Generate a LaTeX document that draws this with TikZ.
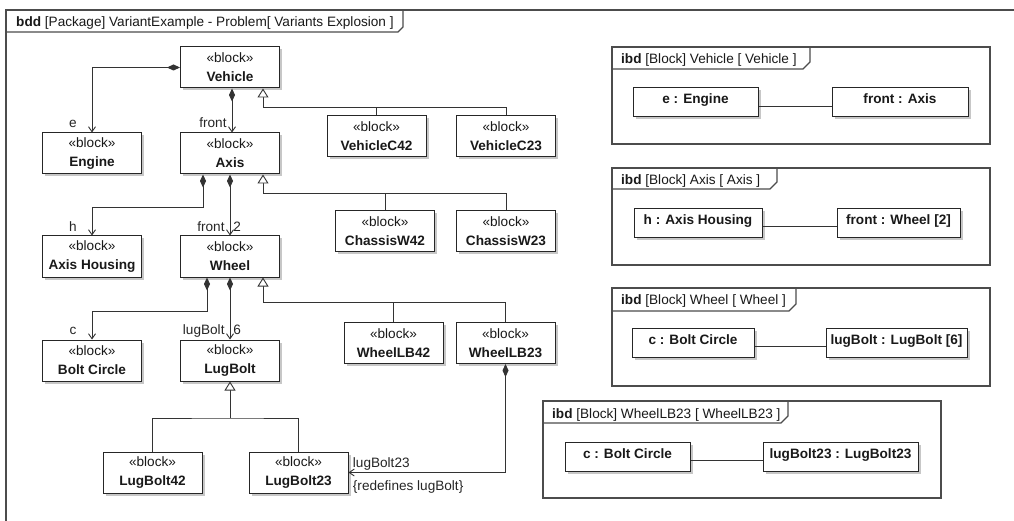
\documentclass[tikz,border=0pt]{standalone}
\usepackage{fontspec}
\setmainfont{Liberation Sans}
\usetikzlibrary{positioning, arrows.meta, shadows}

\begin{document}
\begin{tikzpicture}[x=1pt, y=-1pt,
    font=\fontsize{13.6}{19}\selectfont,
    blk/.style={draw=black!85, fill=white, line width=1pt, minimum width=99pt, minimum height=41pt, inner sep=1pt, align=center, text=black!90,
        drop shadow={shadow xshift=2.5pt, shadow yshift=-2.5pt, fill=black!22, opacity=1}},
    part/.style={draw=black!85, fill=white, line width=1pt, minimum height=29pt, inner sep=1pt, text height=9.5pt, text depth=6.5pt,
        font=\fontsize{13.6}{15}\selectfont\bfseries, text=black!90,
        drop shadow={shadow xshift=2.5pt, shadow yshift=-2.5pt, fill=black!22, opacity=1}},
    frm/.style={draw=black!70, line width=1.2pt},
    hdr/.style={anchor=base west, inner sep=0pt, font=\fontsize{13.6}{15}\selectfont, text=black!90},
    lbl/.style={inner sep=0pt, font=\fontsize{13.6}{15}\selectfont, text=black!85},
    comp/.style={draw=black!80, line width=0.9pt, {Diamond[length=13pt,width=6pt]}-{Straight Barb[length=5pt,width=7pt]}},
    gen/.style={draw=black!80, line width=0.9pt, {Triangle[open,length=9pt,width=11pt,fill=white]}-},
    tree/.style={draw=black!80, line width=0.9pt},
    link/.style={draw=black!80, line width=0.9pt}
]
\fill[white] (0,0) rectangle (1014,521);
\useasboundingbox (0,0) rectangle (1014,521);

% bdd frame
\draw[frm] (6,521) -- (6,10) -- (1014,10);
\draw[frm] (6,32) -- (398,32) -- (403,27) -- (403,10);
\node[hdr] (hdbdd) at (16,27) {\textbf{bdd} [Package] VariantExample - Problem[ Variants Explosion ]};

% blocks
\node[blk] (vehicle) at (230,67.5) {«block»\\\textbf{Vehicle}};
\node[blk] (engine) at (92,153.5) {«block»\\\textbf{Engine}};
\node[blk] (axis) at (230,153.5) {«block»\\\textbf{Axis}};
\node[blk] (vehiclec42) at (376.5,136.5) {«block»\\\textbf{VehicleC42}};
\node[blk] (vehiclec23) at (506,136.5) {«block»\\\textbf{VehicleC23}};
\node[blk] (housing) at (92,256.5) {«block»\\\textbf{Axis Housing}};
\node[blk] (wheel) at (230,256.5) {«block»\\\textbf{Wheel}};
\node[blk] (chassisw42) at (385,231.5) {«block»\\\textbf{ChassisW42}};
\node[blk] (chassisw23) at (506,231.5) {«block»\\\textbf{ChassisW23}};
\node[blk] (boltcircle) at (92,360.5) {«block»\\\textbf{Bolt Circle}};
\node[blk] (lugbolt) at (230,360.5) {«block»\\\textbf{LugBolt}};
\node[blk] (wheellb42) at (393.5,343) {«block»\\\textbf{WheelLB42}};
\node[blk] (wheellb23) at (505.5,343) {«block»\\\textbf{WheelLB23}};
\node[blk] (lugbolt42) at (152.5,472.5) {«block»\\\textbf{LugBolt42}};
\node[blk] (lugbolt23) at (298.5,472.5) {«block»\\\textbf{LugBolt23}};

% part properties
\draw[comp] (vehicle.west) -| (engine.north) node[lbl, at end, anchor=base, xshift=-19pt, yshift=5pt] {e};
\draw[comp] ([xshift=2pt]vehicle.south) -- ([xshift=2pt]axis.north) node[lbl, at end, anchor=base east, xshift=-5pt, yshift=5pt] {front};
\draw[comp] ([xshift=-27pt]axis.south) -- ++(0,33) -| (housing.north) node[lbl, at end, anchor=base, xshift=-19pt, yshift=4pt] {h};
\draw[comp] (axis.south) -- (wheel.north) node[lbl, at end, anchor=base east, xshift=-5pt, yshift=4pt] {front} node[lbl, at end, anchor=base west, xshift=3pt, yshift=4pt] {2};
\draw[comp] ([xshift=-23pt]wheel.south) -- ++(0,34) -| (boltcircle.north) node[lbl, at end, anchor=base, xshift=-19pt, yshift=5pt] {c};
\draw[comp] (wheel.south) -- (lugbolt.north) node[lbl, at end, anchor=base east, xshift=-5pt, yshift=5pt] {lugBolt} node[lbl, at end, anchor=base west, xshift=3pt, yshift=5pt] {6};
\draw[comp] (wheellb23.south) |- (lugbolt23.east) node[lbl, at end, anchor=base west, xshift=4pt, yshift=5pt] {lugBolt23} node[lbl, at end, anchor=base west, xshift=4pt, yshift=-18pt] {\{redefines lugBolt\}};

% generalizations
\coordinate (vbus) at (263,107);
\coordinate (abus) at (263,193);
\coordinate (wbus) at (263,302.5);
\coordinate (lbus) at (230,418);
\draw[gen] ([xshift=33pt]vehicle.south) -- (vbus) -| (vehiclec23.north);
\draw[tree] (vehiclec42.north) -- (vehiclec42.north |- vbus);
\draw[gen] ([xshift=33pt]axis.south) -- (abus) -| (chassisw23.north);
\draw[tree] (chassisw42.north) -- (chassisw42.north |- abus);
\draw[gen] ([xshift=33pt]wheel.south) -- (wbus) -| (wheellb23.north);
\draw[tree] (wheellb42.north) -- (wheellb42.north |- wbus);
\draw[gen] (lugbolt.south) -- (lbus);
\draw[tree] (lugbolt42.north) |- (lbus) -| (lugbolt23.north);

% ibd Vehicle
\draw[frm] (612,47) rectangle (990,144);
\draw[frm] (612,69) -- (803,69) -- (810,62) -- (810,47);
\node[hdr] (hdvehicle) at (621,64) {\textbf{ibd} [Block] Vehicle [ Vehicle ]};
\node[part, minimum width=125pt] (eengine) at (695.5,102.5) {e : Engine};
\node[part, minimum width=136pt] (frontaxis) at (900,102.5) {front : Axis};
\draw[link] ([yshift=-3.5pt]eengine.east) -- ([yshift=-3.5pt]frontaxis.west);

% ibd Axis
\draw[frm] (612,168) rectangle (990,265);
\draw[frm] (612,189) -- (770,189) -- (777,182) -- (777,168);
\node[hdr] (hdaxis) at (621,185) {\textbf{ibd} [Block] Axis [ Axis ]};
\node[part, minimum width=128pt] (hhousing) at (698,223) {h : Axis Housing};
\node[part, minimum width=123pt] (frontwheel) at (898.5,223) {front : Wheel [2]};
\draw[link] ([yshift=-3.5pt]hhousing.east) -- ([yshift=-3.5pt]frontwheel.west);

% ibd Wheel
\draw[frm] (612,288) rectangle (990,386);
\draw[frm] (612,311) -- (789,311) -- (796,304) -- (796,288);
\node[hdr] (hdwheel) at (621,305) {\textbf{ibd} [Block] Wheel [ Wheel ]};
\node[part, minimum width=122pt] (cbolt) at (693,342.5) {c : Bolt Circle};
\node[part, minimum width=141pt] (lugboltpart) at (896.5,342.5) {lugBolt : LugBolt [6]};
\draw[link] ([yshift=-3.5pt]cbolt.east) -- ([yshift=-3.5pt]lugboltpart.west);

% ibd WheelLB23
\draw[frm] (543,401) rectangle (941,498);
\draw[frm] (543,423) -- (781,423) -- (788,416) -- (788,401);
\node[hdr] (hdwheellb) at (552,418) {\textbf{ibd} [Block] WheelLB23 [ WheelLB23 ]};
\node[part, minimum width=125pt] (cboltlb) at (627.5,456.5) {c : Bolt Circle};
\node[part, minimum width=155pt] (lugbolt23part) at (840.5,456.5) {lugBolt23 : LugBolt23};
\draw[link] ([yshift=-3.5pt]cboltlb.east) -- ([yshift=-3.5pt]lugbolt23part.west);
\end{tikzpicture}
\end{document}
